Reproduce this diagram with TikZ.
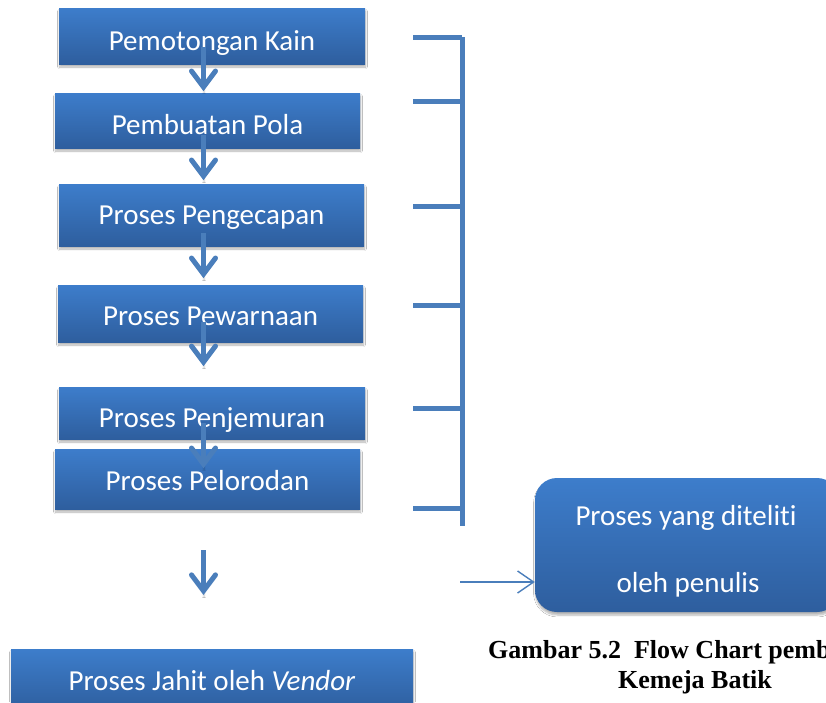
\documentclass[tikz,border=0pt]{standalone}
\usepackage{fontspec}
\setmainfont[Ligatures=NoCommon]{Carlito}
\newfontfamily\capfont{Liberation Serif}
\usetikzlibrary{arrows.meta,shadows.blur,calc}
\definecolor{boxtop}{HTML}{3D7DCB}
\definecolor{boxbot}{HTML}{2E5E9E}
\definecolor{acc}{HTML}{4A7EBB}
\tikzset{
  procbox/.style={draw=none, top color=boxtop, bottom color=boxbot,
    blur shadow={shadow xshift=0.5pt, shadow yshift=-3pt, shadow blur steps=6, shadow opacity=30},
    text=white, inner sep=0pt,
    font=\fontsize{29}{34}\selectfont},
  boxtext/.style={text=white, font=\fontsize{29}{34}\selectfont, inner sep=0pt},
  flowarr/.style={draw=acc, line width=5pt,
    -{Straight Barb[length=16pt,width=24pt,line cap=round]},
    blur shadow={shadow xshift=0.5pt, shadow yshift=-2pt, shadow blur steps=4, shadow opacity=25}},
  brk/.style={draw=acc, line width=5pt},
  thinarr/.style={draw=acc, line width=1.4pt, -{Straight Barb[length=16pt,width=22pt]}},
  captext/.style={inner sep=0pt, font=\capfont\bfseries\fontsize{26}{30}\selectfont},
}
\begin{document}
\begin{tikzpicture}[x=1pt,y=-1pt]
\useasboundingbox (0,0) rectangle (826,702);
\clip (0,0) rectangle (826,702);
\fill[white] (0,0) rectangle (826,702);
% process boxes
\node[procbox, minimum width=306pt, minimum height=56pt] (b1) at (212,36) {};
\node[procbox, minimum width=305pt, minimum height=55pt] (b2) at (207.5,120.5) {};
\node[procbox, minimum width=305pt, minimum height=62pt] (b3) at (211.5,215) {};
\node[procbox, minimum width=305pt, minimum height=57pt] (b4) at (210.5,313.5) {};
\node[procbox, minimum width=306pt, minimum height=52pt] (b5) at (212,413) {};
\node[procbox, minimum width=305pt, minimum height=60pt] (b6) at (207.5,479) {};
\node[procbox, minimum width=402pt, minimum height=62pt] (b7) at (212,680) {};
\node[boxtext, anchor=base] (l1) at (212,50) {Pemotongan Kain};
\node[boxtext, anchor=base] (l2) at (207.5,134) {Pembuatan Pola};
\node[boxtext, anchor=base] (l3) at (211.5,224) {Proses Pengecapan};
\node[boxtext, anchor=base] (l4) at (210.5,325) {Proses Pewarnaan};
\node[boxtext, anchor=base] (l5) at (212,427) {Proses Penjemuran};
\node[boxtext, anchor=base] (l6) at (207.5,490) {Proses Pelorodan};
\node[boxtext, anchor=base] (l7) at (212,690) {Proses Jahit oleh \textit{Vendor}};
% arrow axis
\coordinate (ax) at (203.5,0);
\draw[flowarr] ($(b1.south -| ax)+(0,-17)$) -- ++(0,44);
\draw[flowarr] ($(b2.south -| ax)+(0,-13)$) -- ++(0,45);
\draw[flowarr] ($(b3.south -| ax)+(0,-13)$) -- ++(0,45);
\draw[flowarr] ($(b4.south -| ax)+(0,-20)$) -- ++(0,44);
\draw[flowarr] ($(b5.south -| ax)+(0,-16)$) -- ++(0,45);
\coordinate (a6s) at (203.5,550);
\coordinate (a6e) at (203.5,595);
\draw[flowarr] (a6s) -- (a6e);
% bracket
\coordinate (vt) at (462,37);
\coordinate (vb) at (462,526);
\draw[brk] (vt) -- (vb);
\foreach \yy in {37,101,206,305,408,508} {
  \draw[brk] (413,\yy) -- (462,\yy);
}
% result box
\node[draw=none, rounded corners=22pt, top color=boxtop, bottom color=boxbot,
  blur shadow={shadow xshift=0.5pt, shadow yshift=-3pt, shadow blur steps=6, shadow opacity=30},
  minimum width=304pt, minimum height=134pt, inner sep=0pt] (rb) at (687,545) {};
\node[boxtext, anchor=base] (rt1) at (686,525) {Proses yang diteliti};
\node[boxtext, anchor=base] (rt2) at (688,592) {oleh penulis};
\coordinate (ta) at (460,582);
\draw[thinarr] (ta) -- (rb.west |- ta);
% caption
\node[captext, anchor=base west] (cap1) at (488,658) {Gambar 5.2\ \ Flow Chart pemb};
\node[captext, anchor=base] (cap2) at (695,688) {Kemeja Batik};
\end{tikzpicture}
\end{document}
